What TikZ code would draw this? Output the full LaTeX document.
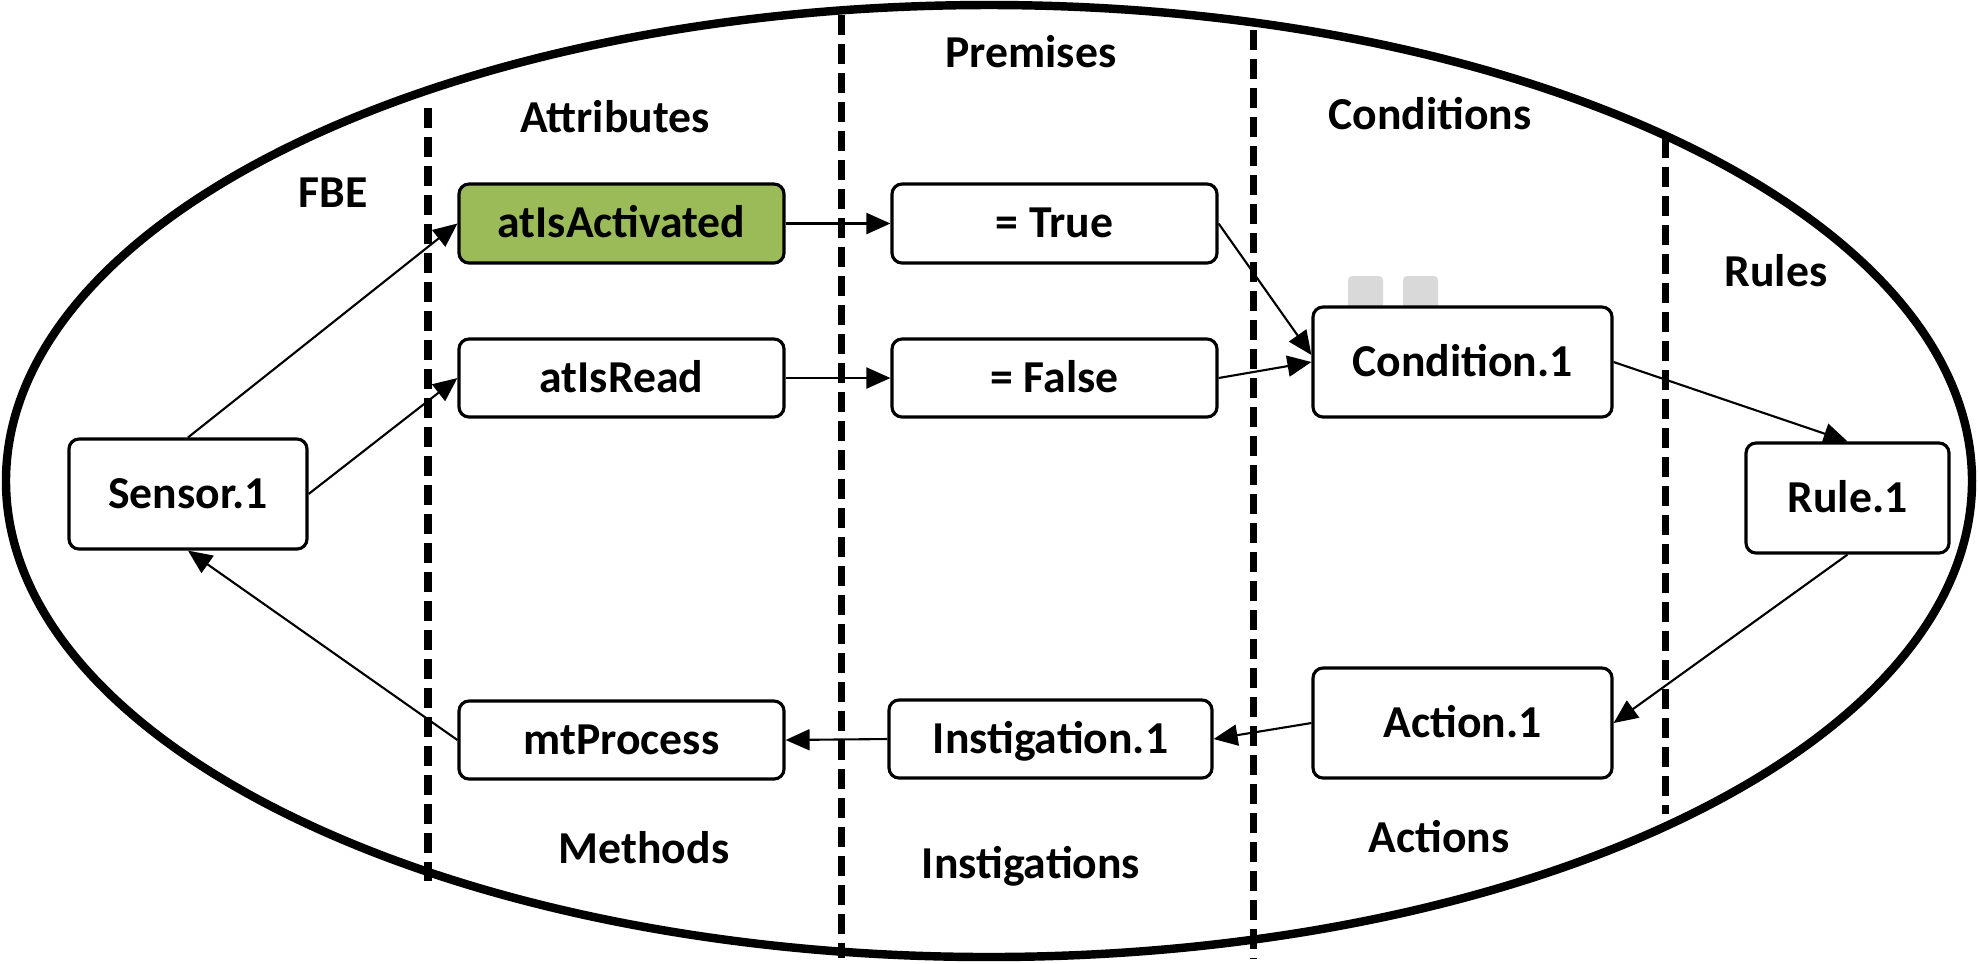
\documentclass[tikz,border=0pt]{standalone}
\usepackage{fontspec}
\setmainfont{Carlito}
\usetikzlibrary{arrows.meta}
\definecolor{attrgreen}{HTML}{9BBB59}
\definecolor{tabgray}{HTML}{D9D9D9}
\begin{document}
\begin{tikzpicture}[line join=round,
  font=\fontsize{13}{15}\selectfont\bfseries,
  >={Triangle[length=0.24cm,width=0.21cm]},
  box/.style={draw,line width=0.9pt,rounded corners=0.1cm,fill=white,
    text height=0.82em,text depth=0pt,inner sep=0pt},
  lbl/.style={text height=0.82em,text depth=0pt,inner sep=0pt},
  conn/.style={->,line width=0.6pt},
  lane/.style={line width=2pt,dash pattern=on 0.2cm off 0.09cm}]
\useasboundingbox (0,0) rectangle (19.78,-9.63);
\draw[line width=2.4pt] (9.89,-4.81) ellipse (9.83 and 4.76);
% lanes
\foreach\x/\t/\b in {4.28/1.08/8.81,8.41/0.15/9.58,12.53/0.30/9.58,16.65/1.38/8.14}
  {\draw[lane] (\x,-\t)--(\x,-\b);}
% lane titles
\foreach\n/\p/\t in {fbe/{3.33,-1.93}/FBE,attr/{6.15,-1.18}/Attributes,
  prem/{10.31,-0.53}/Premises,cnds/{14.30,-1.15}/Conditions,
  rls/{17.76,-2.72}/Rules,mths/{6.44,-8.49}/Methods,
  insts/{10.31,-8.64}/Instigations,acts/{14.39,-8.38}/Actions}
  {\node[lbl] (\n) at (\p) {\t};}
% tabs of the condition
\fill[tabgray,rounded corners=0.04cm] (13.48,-2.76) rectangle (13.83,-3.12);
\fill[tabgray,rounded corners=0.04cm] (14.03,-2.76) rectangle (14.38,-3.12);
\node[box,minimum width=2.38cm,minimum height=1.10cm] (sensor) at (1.88,-4.94) {Sensor.1};
\node[box,fill=attrgreen,minimum width=3.25cm,minimum height=0.79cm] (atact) at (6.215,-2.235) {atIsActivated};
\node[box,minimum width=3.25cm,minimum height=0.78cm] (atread) at (6.215,-3.78) {atIsRead};
\node[box,minimum width=3.25cm,minimum height=0.79cm] (ptrue) at (10.545,-2.235) {= True};
\node[box,minimum width=3.25cm,minimum height=0.78cm] (pfalse) at (10.545,-3.78) {= False};
\node[box,minimum width=2.99cm,minimum height=1.10cm] (cond) at (14.625,-3.62) {Condition.1};
\node[box,minimum width=2.03cm,minimum height=1.10cm] (rule) at (18.475,-4.98) {Rule.1};
\node[box,minimum width=2.99cm,minimum height=1.10cm] (act) at (14.625,-7.23) {Action.1};
\node[box,minimum width=3.23cm,minimum height=0.78cm] (inst) at (10.505,-7.39) {Instigation.1};
\node[box,minimum width=3.25cm,minimum height=0.78cm] (mtproc) at (6.215,-7.40) {mtProcess};
% flow
\draw[conn] (sensor.north)--(atact.west);
\draw[conn] (sensor.east)--(atread.west);
\draw[conn] (atact.east)--(ptrue.west);
\draw[conn] (atread.east)--(pfalse.west);
\draw[conn] (ptrue.east)--([yshift=0.07cm]cond.west);
\draw[conn] (pfalse.east)--(cond.west);
\draw[conn] (cond.east)--(rule.north);
\draw[conn] (rule.south)--(act.east);
\draw[conn] (act.west)--(inst.east);
\draw[conn] (inst.west)--(mtproc.east);
\draw[conn] (mtproc.west)--(sensor.south);
\end{tikzpicture}
\end{document}
